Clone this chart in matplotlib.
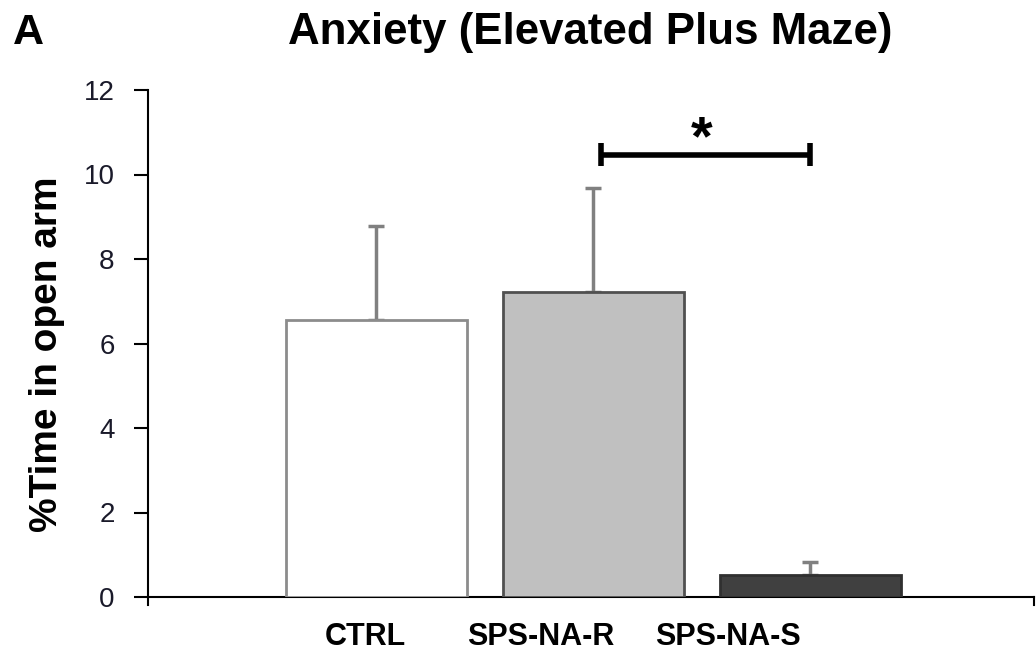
"""
Anxiety (Elevated Plus Maze) bar chart, % time in open arm.
"""
import numpy as np
import matplotlib
matplotlib.use("Agg")
import matplotlib.pyplot as plt

categories = ["CTRL", "SPS-NA-R", "SPS-NA-S"]
means = [6.55, 7.23, 0.52]
sems = [2.22, 2.44, 0.32]
yticks = [0, 2, 4, 6, 8, 10, 12]
sig_pair = (1, 2)  # SPS-NA-R vs SPS-NA-S
sig_height = 10.47
sig_label = "*"

fill_colors = ["#ffffff", "#c0c0c0", "#404040"]
edge_colors = ["#8c8c8c", "#505050", "#303030"]
# category labels sit a little left of the bars in the original
label_shift = [-0.05, -0.24, -0.38]

plt.rcParams["font.family"] = ["Liberation Sans", "DejaVu Sans"]

fig = plt.figure(figsize=(10.36, 6.54), dpi=100)
ax = fig.add_axes([148 / 1036, 1 - 597 / 654, (1034 - 148) / 1036, (597 - 90) / 654])

x = np.arange(1, len(categories) + 1)
ax.bar(x, means, width=0.834, color=fill_colors, edgecolor=edge_colors,
       linewidth=2, zorder=3)
ax.errorbar(x, means, yerr=[np.zeros(len(sems)), sems], fmt="none",
            ecolor="#808080", elinewidth=2.5, capsize=6, capthick=2.5, zorder=2)

ax.set_xlim(-0.051, 4.03)
ax.set_ylim(0, 12)
ax.set_yticks(yticks)
ax.set_yticklabels([str(t) for t in yticks], fontsize=20, color="#1a1a2a")
ax.set_xticks([])
ax.tick_params(axis="y", length=10, width=1.5, direction="out", pad=14)

for side in ["top", "right"]:
    ax.spines[side].set_visible(False)
ax.spines["left"].set_linewidth(1.5)
ax.spines["bottom"].set_linewidth(1.5)

# small end ticks on the category axis, like the original
for xe in ax.get_xlim():
    ax.plot([xe, xe], [0, -0.18], color="black", lw=1.5, clip_on=False)

for xi, name, dx in zip(x, categories, label_shift):
    ax.text(xi + dx, -1.14, name, ha="center", va="baseline",
            fontsize=22, fontweight="bold")

# significance bracket
x0 = x[sig_pair[0]] + 0.037
x1 = x[sig_pair[1]]
ax.plot([x0, x1], [sig_height, sig_height], color="black", lw=4, solid_capstyle="butt")
for xb in (x0, x1):
    ax.plot([xb, xb], [sig_height - 0.27, sig_height + 0.27], color="black", lw=4,
            solid_capstyle="butt")
ax.text((x0 + x1) / 2 - 0.02, 10.47, sig_label, ha="center", va="baseline",
        fontsize=40, fontweight="bold")

fig.text(47 / 1036, 1 - 354 / 654, "%Time in open arm", rotation=90,
         ha="center", va="center", fontsize=28, fontweight="bold")
fig.text(590 / 1036, 1 - 44 / 654, "Anxiety (Elevated Plus Maze)",
         ha="center", va="baseline", fontsize=31.6, fontweight="bold")
fig.text(13 / 1036, 1 - 44 / 654, "A", ha="left", va="baseline",
         fontsize=31, fontweight="bold")

fig.savefig("out.png", dpi=100)
